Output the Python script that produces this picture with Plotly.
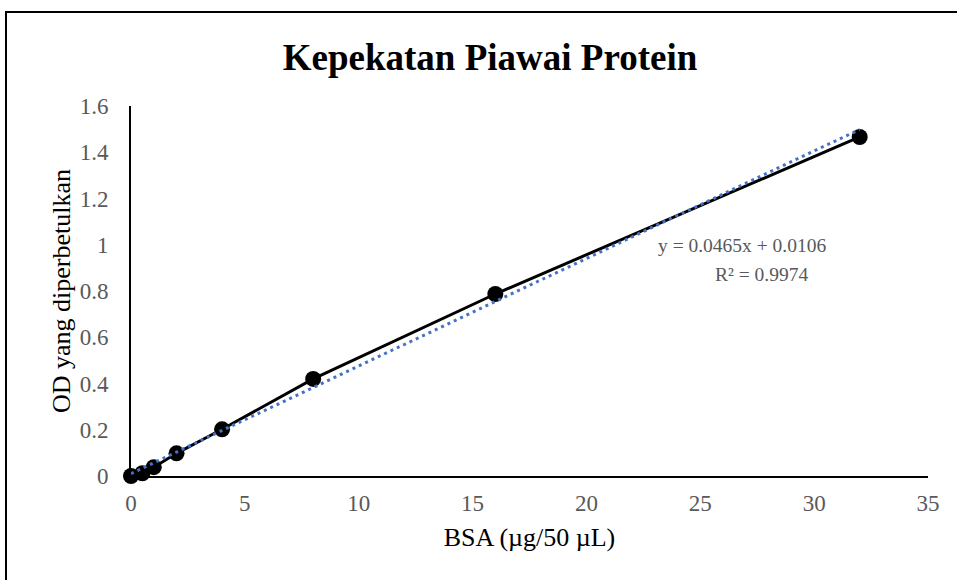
import plotly.graph_objects as go

# Data
bsa = [0, 0.5, 1, 2, 4, 8, 16, 32]
od = [0.0, 0.012, 0.038, 0.098, 0.202, 0.42, 0.787, 1.466]

# Linear trendline shown on the chart
slope = 0.0465
intercept = 0.0106
r2 = 0.9974
trend_x = [0, 32]

x_ticks = [0, 5, 10, 15, 20, 25, 30, 35]
y_ticks = [0, 0.2, 0.4, 0.6, 0.8, 1, 1.2, 1.4, 1.6]
y_tick_labels = ["0", "0.2", "0.4", "0.6", "0.8", "1", "1.2", "1.4", "1.6"]

FONT = "Liberation Serif"
GRAY = "#595959"

W, H = 957, 580
L, R, T, B = 131, 29, 106, 104
pw = W - L - R
ph = H - T - B

fig = go.Figure()
fig.add_trace(go.Scatter(
    x=bsa, y=od, mode="lines+markers",
    line=dict(color="black", width=3),
    marker=dict(color="black", size=16),
    cliponaxis=False,
    showlegend=False, hoverinfo="x+y",
))
fig.add_trace(go.Scatter(
    x=trend_x, y=[slope * v + intercept for v in trend_x], mode="lines",
    line=dict(color="#4472C4", width=3, dash="3px,4px"),
    cliponaxis=False,
    showlegend=False, hoverinfo="skip",
))

fig.add_annotation(x=26.83, y=0.995, xref="x", yref="y",
                   text=f"y = {slope}x + {intercept}", showarrow=False,
                   font=dict(family=FONT, size=19.5, color=GRAY), xanchor="center", yanchor="middle")
fig.add_annotation(x=27.7, y=0.873, xref="x", yref="y",
                   text=f"R² = {r2}", showarrow=False,
                   font=dict(family=FONT, size=19.5, color=GRAY), xanchor="center", yanchor="middle")

# outer chart border (left and top visible)
fig.add_shape(type="rect", xref="paper", yref="paper",
              x0=(6 - L) / pw, x1=(W + 20 - L) / pw,
              y0=-(H + 20 - (T + ph)) / ph, y1=(T + ph - 12) / ph,
              line=dict(color="black", width=2), layer="below")

fig.update_layout(
    width=W, height=H,
    margin=dict(l=L, r=R, t=T, b=B),
    paper_bgcolor="white", plot_bgcolor="white",
    title=dict(text="<b>Kepekatan Piawai Protein</b>", x=(490) / W, xanchor="center",
               y=1 - 57 / H, yanchor="middle",
               font=dict(family=FONT, size=37, color="black")),
    xaxis=dict(range=[0, 35], tickvals=x_ticks, showgrid=False, zeroline=False,
               showline=True, linecolor="black", linewidth=2, ticks="",
               ticklabelstandoff=5,
               tickfont=dict(family=FONT, size=23, color=GRAY),
               title=dict(text="BSA (µg/50 µL)", standoff=13,
                          font=dict(family=FONT, size=26, color="black"))),
    yaxis=dict(range=[0, 1.6], tickvals=y_ticks, ticktext=y_tick_labels, showgrid=False,
               zeroline=False, showline=True, linecolor="black", linewidth=2, ticks="",
               ticklabelstandoff=16,
               tickfont=dict(family=FONT, size=23, color=GRAY),
               title=dict(text="OD yang diperbetulkan", standoff=2,
                          font=dict(family=FONT, size=26, color="black"))),
)

fig.write_html("out.html")
